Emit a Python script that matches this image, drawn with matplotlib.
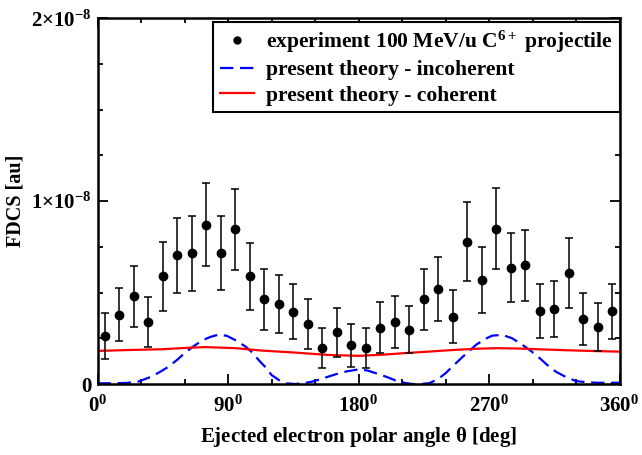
import matplotlib
matplotlib.use("Agg")
import matplotlib.pyplot as plt
from matplotlib.ticker import MultipleLocator, FixedLocator
from matplotlib.lines import Line2D

plt.rcParams['font.family'] = ['Liberation Serif', 'DejaVu Serif']
plt.rcParams['font.weight'] = 'bold'
plt.rcParams['mathtext.fontset'] = 'custom'
plt.rcParams['mathtext.rm'] = 'Liberation Serif:bold'
plt.rcParams['mathtext.it'] = 'Liberation Serif:bold'
plt.rcParams['mathtext.bf'] = 'Liberation Serif:bold'

# experiment (units of 1e-9 au)
exp_angle = [5, 15, 25, 35, 45, 55, 65, 75, 85, 95, 105, 115, 125, 135, 145, 155, 165, 175,
             185, 195, 205, 215, 225, 235, 245, 255, 265, 275, 285, 295, 305, 315, 325, 335, 345, 355]
exp_value = [2.63, 3.80, 4.79, 3.40, 5.88, 7.03, 7.16, 8.72, 7.16, 8.46, 5.88, 4.63, 4.37, 3.95,
             3.27, 1.96, 2.82, 2.11, 1.96, 3.09, 3.40, 2.98, 4.63, 5.19, 3.69, 7.79, 5.67, 8.48,
             6.36, 6.49, 3.97, 4.10, 6.07, 3.55, 3.11, 3.97]
exp_error = [1.27, 1.47, 1.68, 1.38, 1.87, 2.03, 2.05, 2.25, 2.04, 2.21, 1.85, 1.65, 1.57, 1.50,
             1.37, 1.09, 1.34, 1.16, 1.10, 1.38, 1.42, 1.30, 1.65, 1.75, 1.47, 2.14, 1.80, 2.21,
             1.90, 1.95, 1.48, 1.55, 1.90, 1.44, 1.30, 1.50]

# incoherent theory (units of 1e-9 au)
inc_angle = [0, 10, 20, 28, 37, 43, 49, 55, 60, 66, 72, 78, 83, 89, 95, 102, 107, 111, 116, 120,
             125, 130, 136, 142, 148, 154, 159, 165, 171, 180, 186, 192, 199, 206, 212, 217, 223,
             229, 235, 240, 246, 252, 257, 261, 267, 272, 279, 286, 293, 299, 305, 310, 316, 323,
             330, 337, 344, 352, 360]
inc_value = [0.04, 0.04, 0.06, 0.13, 0.40, 0.66, 0.95, 1.33, 1.69, 2.05, 2.38, 2.58, 2.69, 2.64,
             2.40, 2.05, 1.70, 1.32, 0.90, 0.49, 0.22, 0.04, 0.00, 0.05, 0.13, 0.27, 0.40, 0.55,
             0.68, 0.80, 0.74, 0.59, 0.40, 0.18, 0.06, 0.00, 0.00, 0.05, 0.28, 0.59, 1.05, 1.50,
             1.85, 2.14, 2.45, 2.64, 2.69, 2.50, 2.14, 1.80, 1.41, 1.05, 0.68, 0.38, 0.16, 0.10,
             0.07, 0.07, 0.07]

# coherent theory (units of 1e-9 au)
coh_angle = [0, 22, 44, 60, 74, 95, 113, 136, 159, 180, 196, 212, 230, 247, 262, 275, 290, 304,
             322, 339, 360]
coh_value = [1.81, 1.86, 1.90, 1.97, 2.02, 1.96, 1.83, 1.72, 1.59, 1.54, 1.60, 1.69, 1.78, 1.87,
             1.93, 1.96, 1.94, 1.90, 1.85, 1.81, 1.77]

scale = 1e-9

x_ticks = [0, 90, 180, 270, 360]
x_ticklabels = [r'$0^{0}$', r'$90^{0}$', r'$180^{0}$', r'$270^{0}$', r'$360^{0}$']
y_ticks = [0, 1e-8, 2e-8]
y_ticklabels = ['0', r'$1{\times}10^{-8}$', r'$2{\times}10^{-8}$']

fig = plt.figure(figsize=(6.42, 4.55), dpi=100)
ax = fig.add_axes([0.152, 0.156, 0.813, 0.804])

ax.plot(inc_angle, [v * scale for v in inc_value], color='#0000ff', lw=1.6,
        linestyle=(0, (6, 3)), label='present theory - incoherent', zorder=2)
ax.plot(coh_angle, [v * scale for v in coh_value], color='#ff0000', lw=1.6,
        label='present theory - coherent', zorder=2)
ax.errorbar(exp_angle, [v * scale for v in exp_value], yerr=[e * scale for e in exp_error],
            fmt='o', color='black', ms=6, elinewidth=1.1, capsize=2.8, capthick=1.1,
            label='experiment 100 MeV/u C$^{6+}$ projectile', zorder=3)

ax.set_xlim(0, 360)
ax.set_ylim(0, 2e-8)
ax.xaxis.set_major_locator(FixedLocator(x_ticks))
ax.set_xticklabels(x_ticklabels)
ax.xaxis.set_minor_locator(MultipleLocator(30))
ax.yaxis.set_major_locator(FixedLocator(y_ticks))
ax.set_yticklabels(y_ticklabels)
ax.yaxis.set_minor_locator(MultipleLocator(2.5e-9))

ax.tick_params(which='both', direction='in', top=True, right=True, width=1.3, labelsize=15)
ax.tick_params(which='major', length=7)
ax.tick_params(axis='x', which='major', pad=8)
ax.tick_params(axis='y', which='major', pad=4)
ax.tick_params(which='minor', length=3.5)
for s in ax.spines.values():
    s.set_linewidth(1.8)

ax.set_xlabel(r'Ejected electron polar angle $\theta$ [deg]', fontsize=15, fontweight='bold', labelpad=6)
ax.set_ylabel('FDCS [au]', fontsize=14.5, fontweight='bold', labelpad=4)

handles, labels = ax.get_legend_handles_labels()
order = [2, 0, 1]
h = [handles[i] for i in order]
l = [labels[i] for i in order]
h[0] = Line2D([], [], marker='o', color='black', linestyle='none', ms=5)
leg = ax.legend(h, l, loc='upper right', bbox_to_anchor=(1.0, 0.989), fontsize=15.5,
                frameon=True, fancybox=False, framealpha=1, edgecolor='black',
                handlelength=1.6, handletextpad=0.55, borderpad=0.3, labelspacing=0.25,
                borderaxespad=0)
leg.get_frame().set_linewidth(1.5)
for t in leg.get_texts():
    t.set_fontweight('bold')

fig.savefig('out.png', dpi=100)
